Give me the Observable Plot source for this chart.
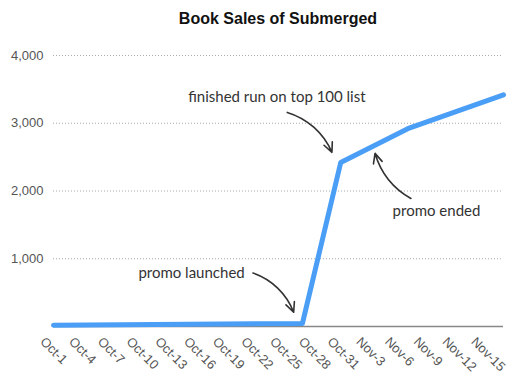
<!DOCTYPE html>
<html><head><meta charset="utf-8">
<script src="https://cdn.jsdelivr.net/npm/d3@7"></script>
<script src="https://cdn.jsdelivr.net/npm/@observablehq/plot@0.6"></script>
<style>
body{margin:0;background:#fff;}
#title{margin-left:53px;width:450px;height:36px;text-align:center;font:bold 16px "Liberation Sans",Arial,Helvetica,sans-serif;line-height:37px;color:#111;}
#chart svg{display:block;}
</style></head><body>
<div id="title">Book Sales of Submerged</div>
<div id="chart"></div>
<script>
// Sales series (cumulative)
const dates = ["2012-10-01", "2012-10-27", "2012-10-31", "2012-11-07", "2012-11-17"];
const sales = [20, 45, 2420, 2920, 3420];

// X axis ticks / labels
const tickDates = ["2012-10-01","2012-10-04","2012-10-07","2012-10-10","2012-10-13","2012-10-16","2012-10-19","2012-10-22","2012-10-25","2012-10-28","2012-10-31","2012-11-03","2012-11-06","2012-11-09","2012-11-12","2012-11-15"];
const tickLabels = ["Oct-1","Oct-4","Oct-7","Oct-10","Oct-13","Oct-16","Oct-19","Oct-22","Oct-25","Oct-28","Oct-31","Nov-3","Nov-6","Nov-9","Nov-12","Nov-15"];
const xDomain = ["2012-10-01", "2012-11-17"];

// Y axis
const yTicks = [1000, 2000, 3000, 4000];
const yDomain = [0, 4000];

// Annotations
const noteTexts = ["finished run on top 100 list", "promo ended", "promo launched"];
const noteDates = ["2012-10-24T08:00", "2012-11-10T00:00", "2012-10-15T10:00"];
const noteValues = [3380, 1700, 790];

const arrowFromDates = ["2012-10-25T10:00", "2012-11-07T08:00", "2012-10-21T20:00"];
const arrowFromValues = [3160, 1890, 790];
const arrowToDates = ["2012-10-30T02:00", "2012-11-03T14:00", "2012-10-26T02:00"];
const arrowToValues = [2570, 2555, 211];
const arrowBends = [25, 22, 25];

const series = dates.map((d, i) => ({date: new Date(d), sales: sales[i]}));
const labelByTime = new Map(tickDates.map((d, i) => [+new Date(d), tickLabels[i]]));
const notes = noteTexts.map((t, i) => ({text: t, date: new Date(noteDates[i] + "Z"), value: noteValues[i]}));
const arrows = arrowFromDates.map((d, i) => ({
  x1: new Date(d + "Z"), y1: arrowFromValues[i],
  x2: new Date(arrowToDates[i] + "Z"), y2: arrowToValues[i], bend: arrowBends[i]
}));

const chart = Plot.plot({
  width: 525,
  height: 346,
  marginTop: 19,
  marginBottom: 56,
  marginLeft: 53,
  marginRight: 22,
  style: {fontFamily: "'Liberation Sans', Arial, Helvetica, sans-serif", background: "#fff"},
  x: {type: "utc", domain: xDomain.map(d => new Date(d)), axis: null},
  y: {domain: yDomain, axis: null},
  marks: [
    Plot.gridY(yTicks, {stroke: "#aaa", strokeOpacity: 1, strokeDasharray: "1,2"}),
    Plot.axisY(yTicks, {tickSize: 0, tickPadding: 10, fontSize: 13, fill: "#555", tickFormat: d3.format(","), label: null}),
    Plot.axisX(tickDates.map(d => new Date(d)), {tickSize: 0, tickPadding: 13, dx: -11, tickRotate: 45, fontSize: 13, fill: "#555", tickFormat: d => labelByTime.get(+d), label: null}),
    Plot.ruleY([0], {stroke: "#888", strokeWidth: 1.5}),
    Plot.line(series, {x: "date", y: "sales", stroke: "#4a9ef5", strokeWidth: 5}),
    Plot.text(notes, {x: "date", y: "value", text: "text", fontSize: 15, fill: "#333", fontFamily: "Lato, 'Open Sans', sans-serif"}),
    ...arrows.map(a => Plot.arrow([a], {x1: "x1", y1: "y1", x2: "x2", y2: "y2", bend: a.bend, stroke: "#333", strokeWidth: 1.6, headLength: 10, headAngle: 50}))
  ]
});
document.getElementById("chart").appendChild(chart);
</script>
</body></html>
